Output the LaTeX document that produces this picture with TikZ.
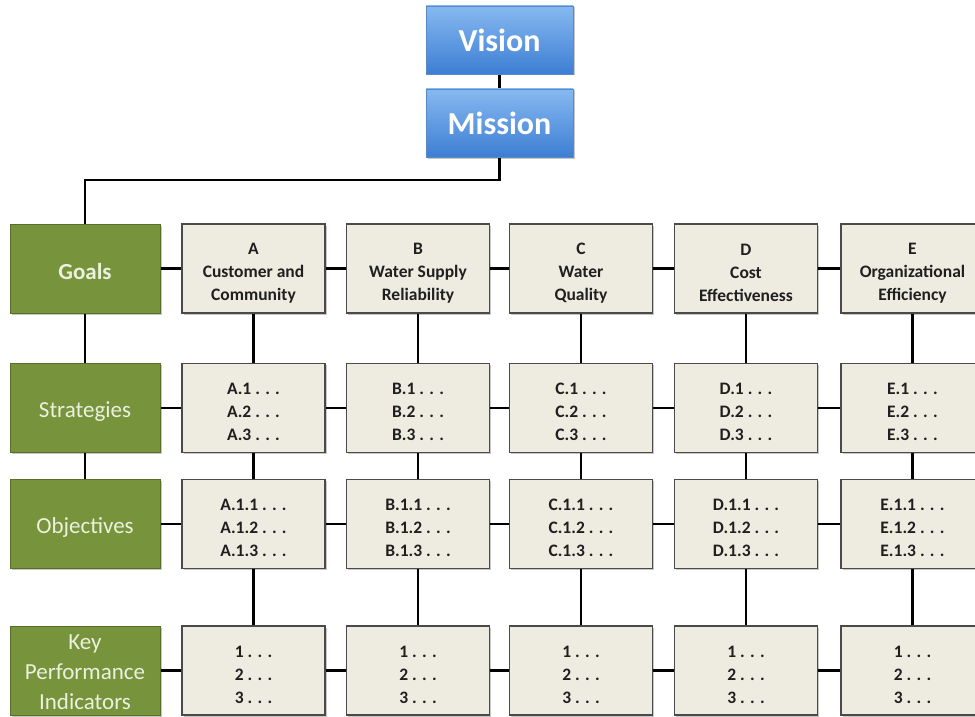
\documentclass[tikz,border=0pt]{standalone}
\usepackage{fontspec}
\setmainfont{Carlito}
\usetikzlibrary{shadows,backgrounds}
\definecolor{gfill}{HTML}{77933C}
\definecolor{gdraw}{HTML}{56702C}
\definecolor{gtext}{HTML}{EBF1DE}
\definecolor{pfill}{HTML}{EEECE1}
\definecolor{pdraw}{HTML}{4A4A4A}
\definecolor{btop}{HTML}{86B9F0}
\definecolor{bbot}{HTML}{3D7ED4}
\definecolor{bdraw}{HTML}{5A8AC6}
\newcommand\gup{\rule{0pt}{20pt}}
\newcommand\kup{\rule{0pt}{22pt}}
\tikzset{
  base/.style={rectangle, inner sep=0pt, align=center,
    drop shadow={shadow xshift=1.5pt, shadow yshift=-1.5pt, opacity=0.22, fill=black}},
  greenbox/.style={base, fill=gfill, draw=gdraw, line width=1pt,
    minimum width=150pt, minimum height=89pt, text=gtext,
    font=\fontsize{23}{30}\selectfont},
  graybox/.style={base, fill=pfill, draw=pdraw, line width=1.2pt,
    minimum width=143pt, minimum height=89pt, text=black!88,
    font=\bfseries\fontsize{17.5}{23}\selectfont},
  bluebox/.style={base, top color=btop, bottom color=bbot, draw=bdraw, line width=0.8pt,
    minimum width=147pt, minimum height=68pt, text=white,
    font=\bfseries\fontsize{32}{36}\selectfont},
  conn/.style={line width=2.6pt, black}
}
\begin{document}
\begin{tikzpicture}[x=1pt,y=1pt]
\useasboundingbox (0,0) rectangle (975,-717);
% top
\node[bluebox] (vis) at (499.5,-40) {Vision};
\node[bluebox] (mis) at (499.5,-123) {Mission};
% row labels
\node[greenbox] (g1) at (85,-268.5) {\kup\textbf{Goals}};
\node[greenbox] (g2) at (85,-408) {\kup Strategies};
\node[greenbox] (g3) at (85,-524) {\kup Objectives};
\node[greenbox] (g4) at (85,-670.5) {\rule{0pt}{19pt}Key\\Performance\\Indicators};
% goals
\node[graybox] (A-g) at (253.5,-268.5) {\gup A\\Customer and\\Community};
\node[graybox] (B-g) at (418,-268.5) {\gup B\\Water Supply\\Reliability};
\node[graybox] (C-g) at (581,-268.5) {\gup C\\Water\\Quality};
\node[graybox] (D-g) at (746,-268.5) {\gup D\\Cost\\Effectiveness};
\node[graybox] (E-g) at (912.5,-268.5) {\gup E\\Organizational\\Efficiency};
\foreach \c/\x in {A/253.5,B/418,C/581,D/746,E/912.5}{
  \node[graybox] (\c-s) at (\x,-408) {\gup\c.1 . . .\\\c.2 . . .\\\c.3 . . .};
  \node[graybox] (\c-o) at (\x,-524) {\gup\c.1.1 . . .\\\c.1.2 . . .\\\c.1.3 . . .};
  \node[graybox] (\c-k) at (\x,-670.5) {\gup 1 . . .\\2 . . .\\3 . . .};
}
\coordinate (turn) at (499.5,-180);
\begin{scope}[on background layer]
\draw[conn] (vis) -- (mis);
\draw[conn] (mis.south) -- (turn) -| (g1.north);
\draw[conn] (g1) -- (g2);
\draw[conn] (g2) -- (g3);
\foreach \r in {g,s,o,k}{
  \draw[conn] (A-\r) -- (B-\r);
  \draw[conn] (B-\r) -- (C-\r);
  \draw[conn] (C-\r) -- (D-\r);
  \draw[conn] (D-\r) -- (E-\r);
}
\draw[conn] (g1) -- (A-g);
\draw[conn] (g2) -- (A-s);
\draw[conn] (g3) -- (A-o);
\draw[conn] (g4) -- (A-k);
\foreach \c in {A,B,C,D,E}{
  \draw[conn] (\c-g) -- (\c-s);
  \draw[conn] (\c-s) -- (\c-o);
  \draw[conn] (\c-o) -- (\c-k);
}
\end{scope}
\end{tikzpicture}
\end{document}
